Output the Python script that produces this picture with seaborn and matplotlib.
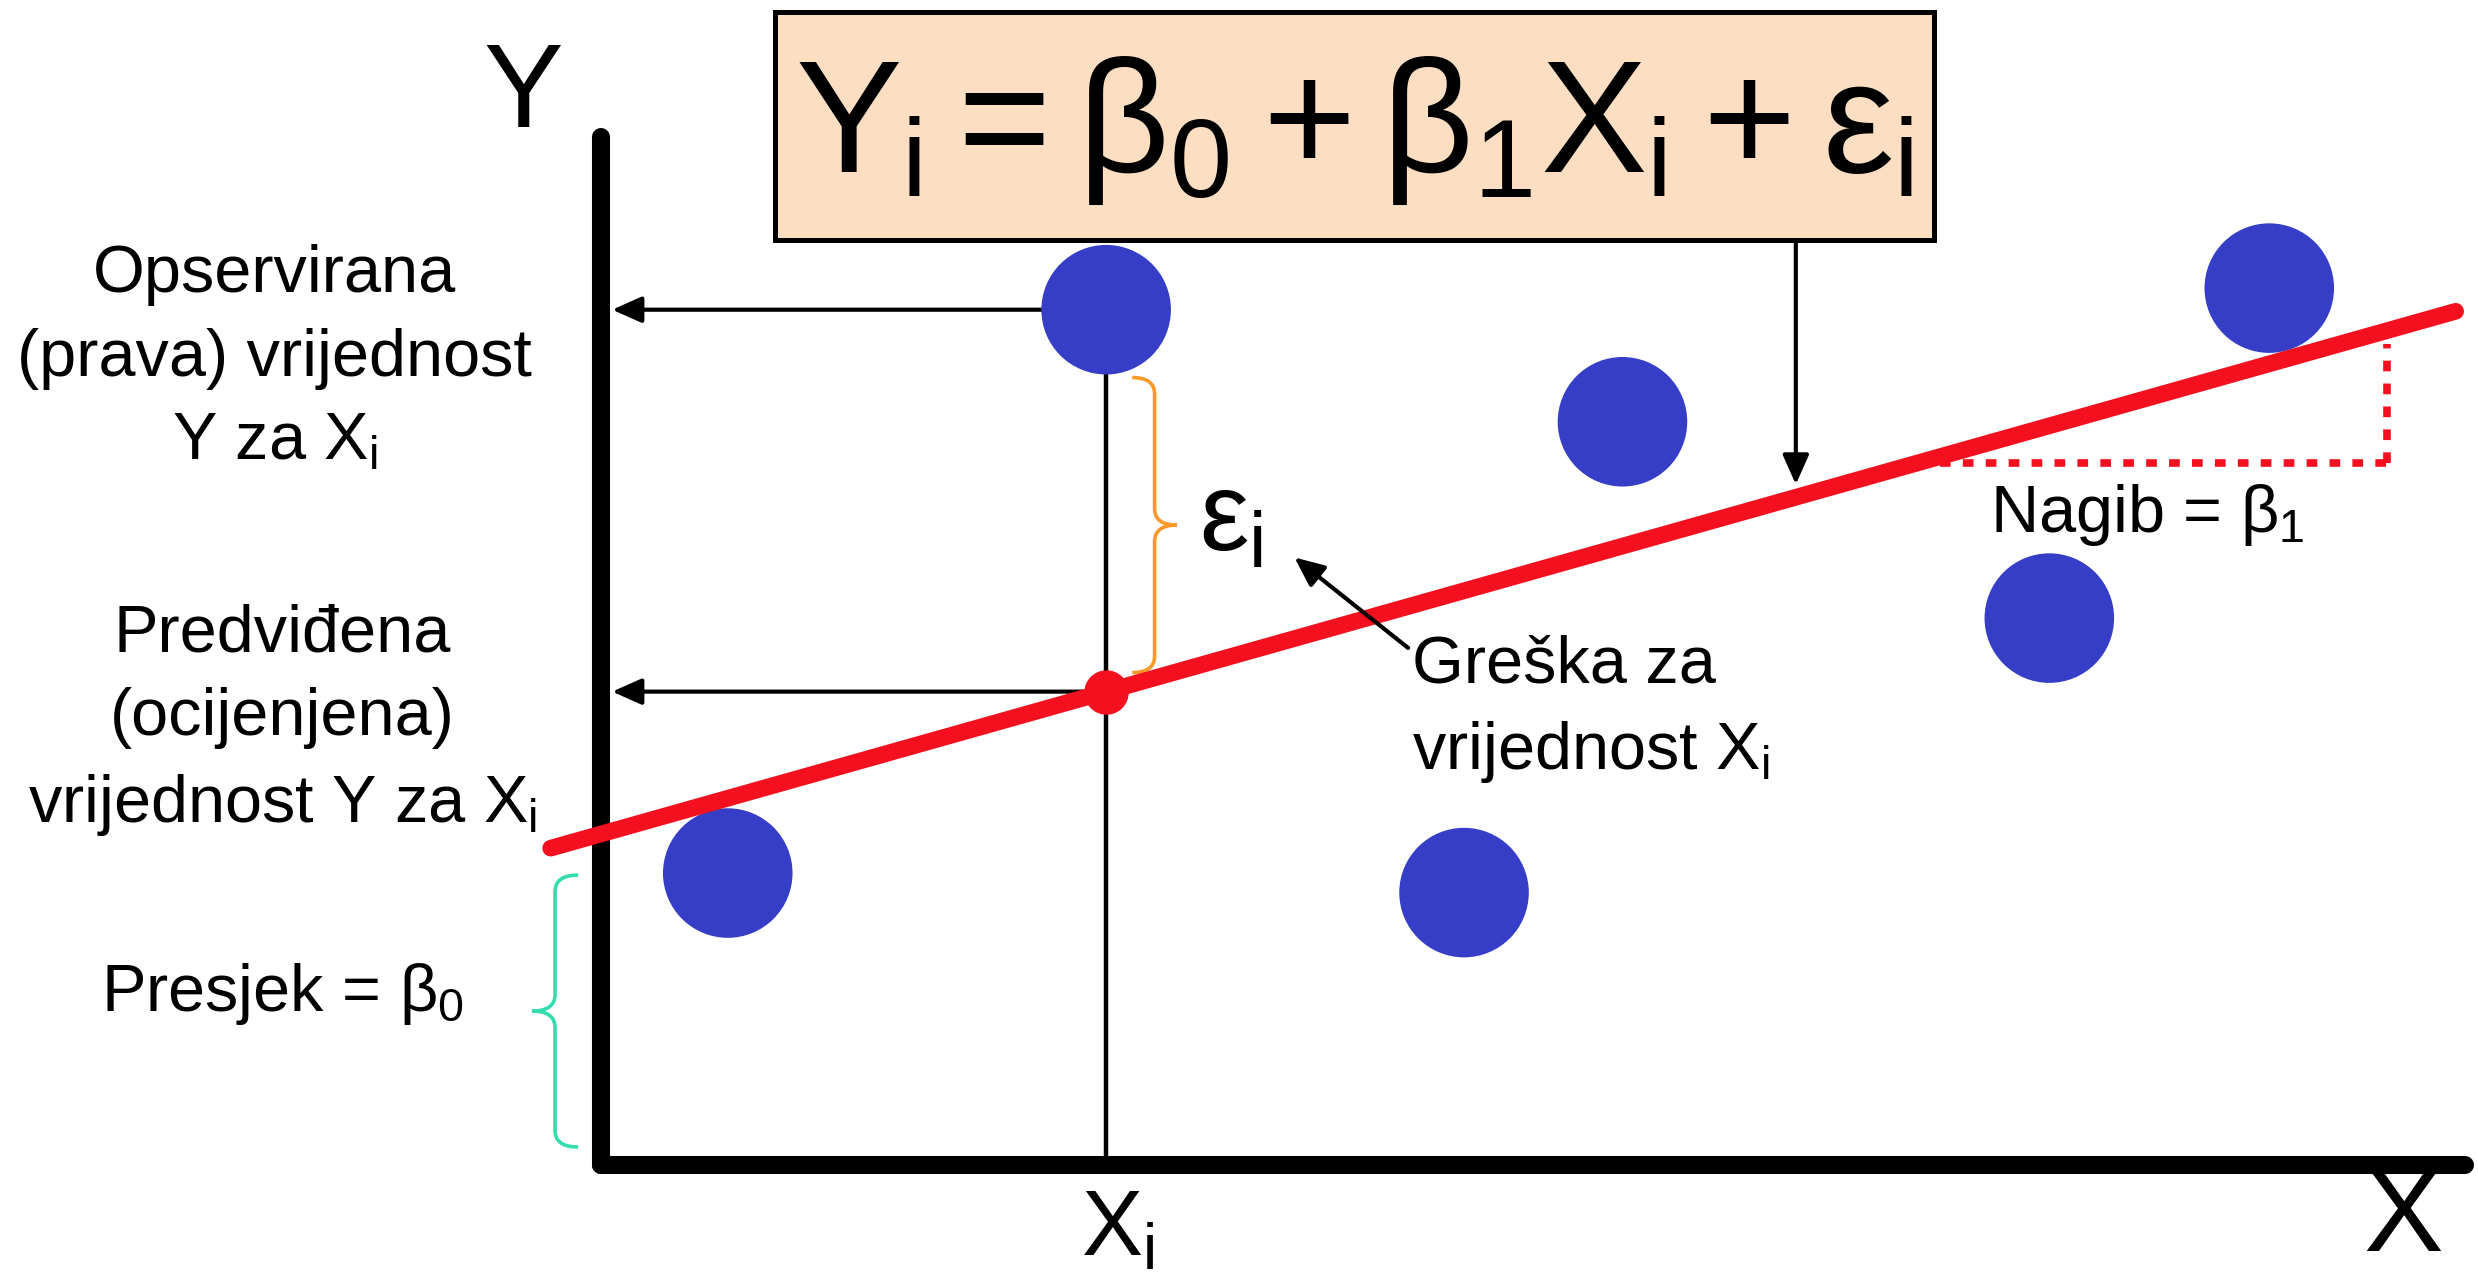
import numpy as np
import pandas as pd
import matplotlib.pyplot as plt
from matplotlib.path import Path
from matplotlib.patches import PathPatch, Rectangle
import seaborn as sns

# observed points (x, y) in chart units, axes run 0..100
x_obs = [27.1, 54.8, 89.5, 77.7, 6.8, 46.3]
y_obs = [83.2, 72.3, 85.3, 53.2, 28.4, 26.5]

# fitted line y = b0 + b1 * x
b0 = 32.2
b1 = 0.511
line_x = np.array([-2.7, 99.5])

# highlighted point i and its pieces
i_obs = 0
err_brace = [47.9, 76.6]       # epsilon_i brace (bottom, top)
icept_brace = [1.75, 28.2]     # beta_0 brace (bottom, top)
slope_run = [70.6, 95.8]       # dotted slope triangle x range

blue = "#363DC6"
red = "#F5101F"

sns.set_theme(style="white")
plt.rcParams['font.family'] = ['Liberation Sans', 'DejaVu Sans']
plt.rcParams['text.color'] = 'black'
plt.rcParams['mathtext.fontset'] = 'custom'
plt.rcParams['mathtext.rm'] = 'Liberation Sans'
plt.rcParams['mathtext.it'] = 'Liberation Sans'
plt.rcParams['mathtext.bf'] = 'Liberation Sans:bold'

fig = plt.figure(figsize=(24.78, 12.73), dpi=100)
ax = fig.add_axes([601 / 2478, 108 / 1273, 1864 / 2478, 1028 / 1273])
ax.set_xlim(0, 100)
ax.set_ylim(0, 100)
ax.set_xticks([])
ax.set_yticks([])
sns.despine(ax=ax)
for s in ['left', 'bottom']:
    ax.spines[s].set_linewidth(13)
    ax.spines[s].set_color('black')
    ax.spines[s].set_capstyle('round')


def brace(ax, x_base, x_tip, y0, y1, color, lw, r=1.6):
    xm = (x_base + x_tip) / 2
    ym = (y0 + y1) / 2
    verts = [(x_base, y1), (xm, y1), (xm, y1 - r), (xm, ym + r),
             (xm, ym), (x_tip, ym), (xm, ym), (xm, ym - r),
             (xm, y0 + r), (xm, y0), (x_base, y0)]
    codes = [Path.MOVETO, Path.CURVE3, Path.CURVE3, Path.LINETO,
             Path.CURVE3, Path.CURVE3, Path.CURVE3, Path.CURVE3,
             Path.LINETO, Path.CURVE3, Path.CURVE3]
    ax.add_patch(PathPatch(Path(verts, codes), fill=False, edgecolor=color,
                           lw=lw, clip_on=False, zorder=3))


xi = x_obs[i_obs]
yi = y_obs[i_obs]
yhat = b0 + b1 * xi

# vertical line at X_i
ax.plot([xi, xi], [0, yi], color='black', lw=3.2, zorder=1)

# points
df = pd.DataFrame({'x': x_obs, 'y': y_obs})
sns.scatterplot(data=df, x='x', y='y', s=8700, color=blue, edgecolor='none',
                ax=ax, zorder=2, clip_on=False)

# regression line
sns.lineplot(x=line_x, y=b0 + b1 * line_x, color=red, lw=12, ax=ax,
             zorder=4, clip_on=False)
ax.plot([xi], [yhat], 'o', color=red, ms=31, zorder=5)

# dotted slope triangle
ax.plot([slope_run[0], slope_run[1]], [b0 + b1 * slope_run[0]] * 2, color=red,
        lw=5.5, ls=(0, (1.4, 1.6)), zorder=3)
ax.plot([slope_run[1], slope_run[1]],
        [b0 + b1 * slope_run[0], b0 + b1 * slope_run[1] - 1.3], color=red,
        lw=5.5, ls=(0, (1.4, 1.6)), zorder=3)

arrow = dict(arrowstyle='-|>,head_length=0.9,head_width=0.4', color='black',
             lw=3, mutation_scale=20, shrinkA=0, shrinkB=0)
ax.annotate('', xy=(0.6, yi), xytext=(xi - 2.5, yi), arrowprops=arrow,
            annotation_clip=False, zorder=1)
ax.annotate('', xy=(0.6, yhat), xytext=(xi, yhat), arrowprops=arrow,
            annotation_clip=False, zorder=1)
ax.annotate('', xy=(64.1, 66.2), xytext=(64.1, 90.0), arrowprops=arrow,
            annotation_clip=False, zorder=6)
ax.annotate('', xy=(37.2, 59.1), xytext=(43.3, 50.3), arrowprops=arrow,
            annotation_clip=False, zorder=6)

brace(ax, 28.5, 30.9, err_brace[0], err_brace[1], "#F8992A", 2.6)
brace(ax, -1.23, -3.7, icept_brace[0], icept_brace[1], "#35DDAE", 2.6)

# formula box
ax.add_patch(Rectangle((9.33, 90.0), 62.2, 22.2, facecolor="#FCDFC2",
                       edgecolor='black', lw=3.6, clip_on=False, zorder=6))
ax.text(40.4, 96.6, r'$Y_i = β_0 + β_1 X_i + ε_i$', fontsize=115,
        ha='center', va='baseline', zorder=7)

# labels
ax.text(-4.2, 101.0, 'Y', fontsize=86, ha='center', va='baseline')
ax.text(96.7, -8.4, 'X', fontsize=86, ha='center', va='baseline')
ax.text(xi + 0.6, -8.75, r'$X_i$', fontsize=66, ha='center', va='baseline')

ax.text(-17.5, 89.6, 'Opservirana\n(prava) vrijednost\nY za $X_i$',
        fontsize=48, ha='center', va='top', multialignment='center',
        linespacing=1.45)
ax.text(-17.1, 54.6, 'Predviđena\n(ocijenjena)\nvrijednost Y za $X_i$',
        fontsize=48, ha='center', va='top', multialignment='center',
        linespacing=1.45)
ax.text(-17.1, 15.0, r'Presjek = $β_0$', fontsize=48, ha='center',
        va='baseline')
ax.text(43.5, 51.6, 'Greška za\nvrijednost $X_i$', fontsize=48, ha='left',
        va='top', linespacing=1.45)
ax.text(74.5, 61.6, r'Nagib = $β_1$', fontsize=48, ha='left', va='baseline')
ax.text(32.1, 59.8, r'$ε_i$', fontsize=80, ha='left', va='baseline')

fig.savefig('out.png', dpi=100)
